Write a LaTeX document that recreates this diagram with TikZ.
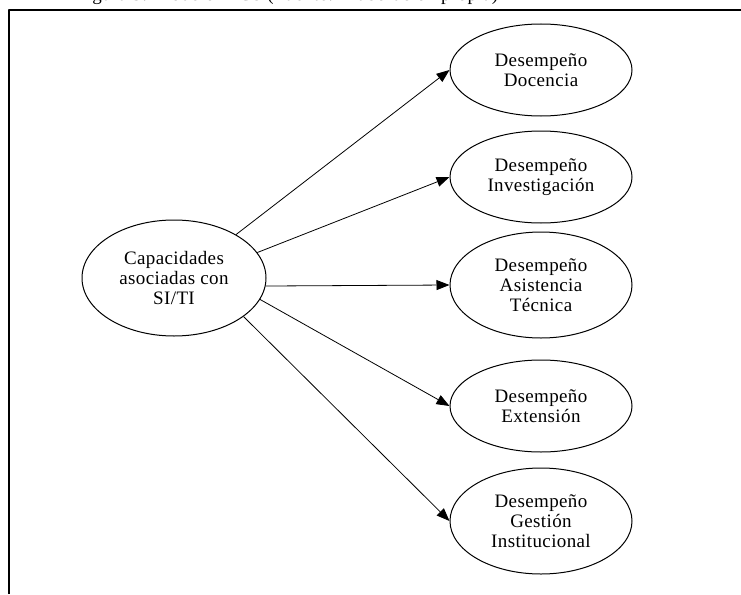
\documentclass[tikz,border=0pt]{standalone}
\usepackage{fontspec}
\setmainfont{Liberation Serif}[LetterSpace=2]
\usetikzlibrary{shapes.geometric,arrows.meta}
\begin{document}
\begin{tikzpicture}[x=1pt,y=-1pt,>={Triangle[length=13pt,width=10pt]},font=\fontsize{19}{20}\selectfont,line join=round,
  elip/.style={ellipse,draw,line width=1pt,align=center,inner sep=0pt,minimum width=182pt,minimum height=92pt}]
\useasboundingbox (0,0) rectangle (741,594);
\begin{scope}
\clip (0,0) rectangle (741,594);
\node (titulo) at (287,1) [anchor=base] {Figura 3. Modelo TICS (Fuente: Elaboración propia)};
\end{scope}
\draw[line width=1.8pt] (9,594)--(9,10)--(741,10);
\node[elip,minimum width=184pt,minimum height=116pt] (cap) at (174,278) {Capacidades\\asociadas con\\SI/TI};
\node[elip] (doc) at (541,70) {Desempeño\\Docencia};
\node[elip] (inv) at (541,177) {Desempeño\\Investigación};
\node[elip,minimum height=106pt] (asis) at (541,285) {Desempeño\\Asistencia\\Técnica};
\node[elip] (ext) at (541,406) {Desempeño\\Extensión};
\node[elip,minimum height=106pt] (gest) at (541,521) {Desempeño\\Gestión\\Institucional};
\foreach \n/\a in {doc/35,inv/17,asis/-5,ext/-14,gest/-29}
  \draw[->,line width=0.8pt] (cap.\a)--(\n.west);
\end{tikzpicture}
\end{document}
